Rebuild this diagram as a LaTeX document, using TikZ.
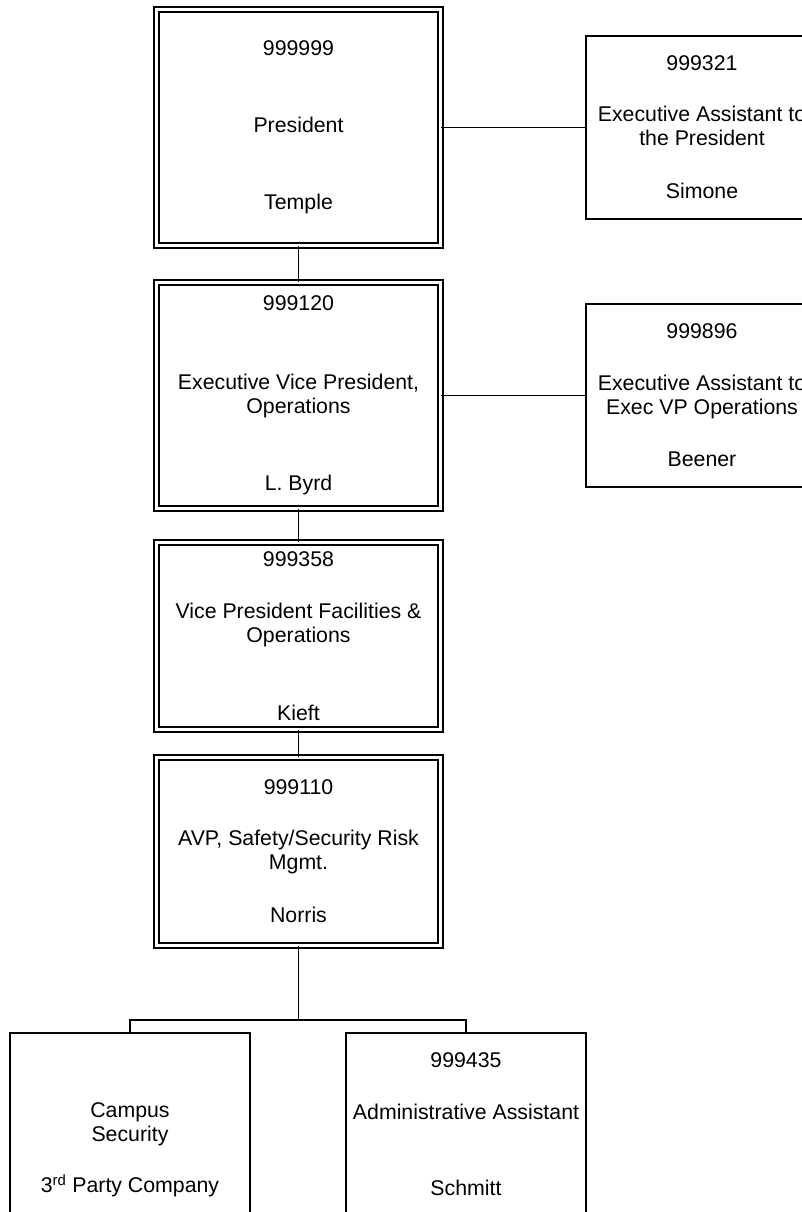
\documentclass[tikz,border=0pt]{standalone}
\usepackage{fontspec}
\setmainfont{Liberation Sans}
\tikzset{head/.style = {draw,double,double distance = 3.4pt,line width = 1.6pt,minimum width = 284pt,minimum height = #1,align = center,inner sep = 2pt},
aide/.style = {draw,line width = 1.9pt,minimum width = #1,minimum height = 183pt,align = center,inner sep = 2pt},
link/.style = {line width = 1.9pt}}

\begin{document}
\begin{tikzpicture}[x = 1pt,y = -1pt,font = \fontsize{21.3}{24}\selectfont]
\useasboundingbox (0,0) rectangle (802,1212);
\clip (0,0) rectangle (802,1212);
\node[head = 236pt] (pres) at (298.5,127.5) {999999 \\[53pt] President \\[53pt] Temple};
\node[head = 226pt] (evp) at (298.5,395.5) {999120 \\[55pt] Executive Vice President, \\ Operations \\[53pt] L. Byrd};
\node[head = 187pt] (vpf) at (298.5,636) {999358 \\[28pt] Vice President Facilities \& \\ Operations \\[54pt] Kieft};
\node[head = 188pt] (avp) at (298.5,851.5) {999110 \\[27pt] AVP, Safety/Security Risk \\ Mgmt. \\[29pt] Norris};

\node[aide = 232pt] (ea1) at (702,127.5) {999321 \\[27pt] Executive Assistant to \\ the President \\[29pt] Simone};
\node[aide = 232pt] (ea2) at (702,395.5) {999896 \\[28pt] Executive Assistant to \\ Exec VP Operations \\[28pt] Beener};

\node[aide = 240pt,minimum height = 182pt] (cs) at (130,1124) {\phantom{999435} \\[28pt] Campus \\ Security \\[27pt] 3\textsuperscript{rd} Party Company};
\node[aide = 240pt,minimum height = 182pt] (aa) at (466,1124) {999435 \\[28pt] Administrative Assistant \\[52pt] Schmitt};

\coordinate (bus) at (298.5,1020);

\draw[link] (pres) -- (evp);
\draw[link] (evp) -- (vpf);
\draw[link] (vpf) -- (avp);
\draw[link] (pres) -- (ea1);
\draw[link] (evp) -- (ea2);
\draw[link] (avp) -- (bus);
\draw[link] (cs.north) |- (bus) -| (aa.north);
\end{tikzpicture}
\end{document}
